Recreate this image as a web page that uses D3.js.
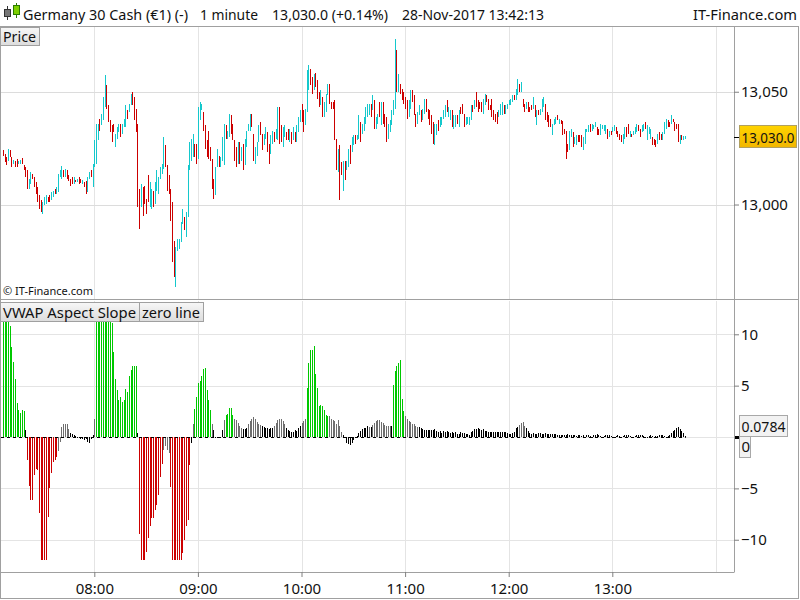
<!DOCTYPE html>
<html><head><meta charset="utf-8">
<script src="https://cdn.jsdelivr.net/npm/d3@7"></script>
<style>
body{margin:0;background:#fff}
svg{display:block}
text{font-family:"Segoe UI","Noto Sans","Open Sans",sans-serif;fill:#111}
</style></head>
<body><svg id="c" width="800" height="600"></svg>
<script>
// ---------- DATA ----------
const startTime = "07:07";           // first 1-minute bar
const hourTicks = ["08:00","09:00","10:00","11:00","12:00","13:00","14:00"];
const priceTicks = [13000, 13050];
const slopeTicks = [-10, -5, 0, 5, 10];
const lastPrice = 13030.0;
const lastSlope = 0.0784;

const high = [
13024.0,13022.5,13021.0,13024.7,13024.0,13021.0,13019.8,13019.5,13020.3,13019.5,
13019.8,13020.7,13017.3,13016.6,13015.1,13011.4,13014.3,13013.6,13012.1,13009.9,
13007.7,13004.0,13001.8,13001.0,13003.3,13004.0,13003.3,13004.0,13005.5,13006.2,
13007.0,13007.7,13013.6,13015.1,13016.9,13015.1,13015.8,13015.1,13012.9,13011.4,
13012.1,13012.1,13010.9,13011.4,13012.1,13011.4,13010.9,13009.9,13010.6,13012.1,
13014.3,13015.1,13018.0,13028.4,13035.8,13035.8,13038.0,13040.2,13047.6,13057.2,
13052.8,13043.9,13037.3,13035.1,13035.8,13031.4,13034.3,13035.8,
13035.8,13035.8,13038.0,13043.9,13041.7,13044.7,13049.1,13049.9,13047.6,13042.5,
13035.8,13007.0,13009.2,13007.7,13008.4,13002.5,13012.9,13009.9,13007.0,13006.2,
13009.9,13015.1,13012.1,13016.6,13018.0,13029.9,13026.2,13017.3,13012.9,13007.0,
13001.0,12984.0,12981.1,12984.8,12984.8,12992.2,12998.1,12994.4,12996.6,13017.3,
13027.7,13029.1,13031.4,13026.9,13026.9,13043.2,13045.4,13044.7,13041.0,13035.1,
13028.4,13032.8,13025.4,13020.3,13011.4,13016.6,13024.7,13021.7,13021.0,13029.9,
13035.8,13035.1,13032.8,13040.2,13039.5,13035.8,13028.4,13025.4,13027.7,13027.7,
13025.4,13026.9,13029.1,
13032.8,13035.8,13040.2,13040.2,13031.4,13025.4,13027.7,13035.1,13036.5,13031.4,
13031.4,13034.3,13032.1,13026.9,13030.6,13032.8,13032.1,13033.6,13043.2,13043.2,
13035.1,13034.3,13035.1,13032.1,13033.6,13033.6,13032.1,13034.3,13032.1,13035.1,
13038.8,13041.7,13044.7,13041.7,13042.5,13059.5,13061.7,13060.2,13056.5,13058.0,
13058.3,13055.0,13049.9,13050.6,13047.6,13045.4,13049.1,13053.6,13053.6,13045.4,
13045.4,13046.2,13029.1,13024.7,13026.2,13018.8,13019.5,13019.5,13019.5,13024.7,
13026.2,13029.9,13030.6,13030.6,13030.6,13039.5,13036.5,13035.8,13038.8,
13043.2,13044.7,13044.7,13044.7,13048.4,13046.2,13038.8,13040.2,13045.4,13045.4,
13045.4,13040.2,13038.8,13035.8,13037.3,13041.7,13046.2,13073.5,13068.3,13058.0,
13053.6,13051.3,13049.9,13047.6,13046.2,13046.2,13050.6,13050.6,13048.4,13040.2,
13041.0,13043.9,13041.7,13042.5,13046.9,13046.9,13042.5,13041.7,13039.5,13036.5,
13035.8,13035.8,13037.3,13038.8,13038.8,13041.7,13043.9,13046.2,13043.2,13041.7,
13041.7,13039.5,13039.5,13039.5,13041.7,13043.2,13044.7,13040.2,13038.8,13038.8,
13038.8,13043.9,13043.9,13046.2,13049.9,13046.2,13045.4,13045.4,13046.9,13049.1,
13048.4,13046.9,13043.9,13046.9,13041.7,13040.2,13041.0,13041.7,13044.7,13045.4,
13043.9,13043.9,13044.7,13046.2,13046.9,13048.4,13048.4,13051.3,13055.8,13053.6,
13054.3,13046.9,13044.7,13045.4,13045.4,13043.2,13043.9,13047.6,13043.9,13041.7,
13041.7,13042.5,13046.9,13047.6,13044.7,13041.0,13039.5,13038.0,13035.8,13038.0,
13038.8,13039.5,13038.0,13037.3,13037.0,13033.6,13032.8,13026.9,13032.8,13033.6,
13032.1,13029.9,13030.6,13030.6,13030.6,13030.6,13029.9,13033.6,13033.6,13035.1,
13035.8,13035.8,13035.1,13036.5,13034.3,13033.6,13035.8,13035.1,13035.1,
13035.1,13033.6,13032.8,13032.8,13034.3,13035.1,13034.3,13032.8,13031.4,13030.6,
13031.4,13034.3,13034.3,13035.8,13032.8,13031.4,13032.8,13034.3,13035.8,13035.1,
13033.6,13035.1,13035.8,13036.5,13035.1,13034.3,13033.6,13029.9,13029.1,13028.4,
13031.4,13032.1,13031.4,13032.1,13036.5,13038.0,13037.3,13036.5,13039.5,13038.0,
13036.5,13035.8,13035.8,13030.6,13030.6,13030.2,13030.2
];
const low = [
13021.7,13018.8,13017.3,13019.5,13021.0,13016.6,13018.0,13016.6,13016.6,13018.0,
13018.0,13018.0,13015.1,13012.1,13007.0,13007.0,13009.2,13011.4,13007.7,13004.7,
13001.0,12998.1,12996.6,12995.9,12999.6,13000.3,13001.0,13001.0,13001.8,13003.3,
13004.7,13004.7,13005.5,13012.1,13011.4,13012.1,13012.1,13011.4,13010.6,13008.4,
13009.2,13009.2,13009.9,13009.9,13008.9,13009.5,13009.2,13007.7,13004.7,13005.5,
13011.4,13012.1,13007.7,13016.6,13018.0,13028.4,13032.8,13035.1,13037.3,13043.2,
13042.4,13036.5,13032.1,13027.7,13032.1,13025.4,13029.1,13032.1,
13029.9,13031.4,13034.3,13034.3,13038.0,13041.0,13043.9,13043.9,13037.3,13032.1,
12998.8,12989.2,12998.8,12995.1,13000.3,12995.9,13001.0,12998.8,12998.1,12998.8,
13000.3,13006.2,13004.7,13011.4,13013.6,13015.8,13016.6,13006.2,13004.7,12992.9,
12974.4,12967.8,12963.6,12979.6,12980.3,12983.3,12991.4,12988.5,12985.5,12994.4,
13015.1,13019.5,13021.0,13021.0,13018.0,13020.3,13037.3,13041.7,13032.8,13024.7,
13021.0,13020.3,13019.5,13007.0,13002.5,13004.0,13016.6,13016.6,13016.6,13019.5,
13017.3,13029.1,13029.1,13029.9,13031.4,13028.4,13019.5,13016.6,13018.0,13018.0,
13019.5,13015.1,13017.3,
13025.4,13032.8,13032.8,13034.3,13019.5,13018.0,13021.7,13027.7,13030.6,13024.0,
13026.2,13029.1,13023.2,13018.0,13022.5,13026.9,13027.7,13029.1,13028.4,13026.9,
13027.7,13025.4,13029.9,13028.4,13028.4,13027.7,13026.9,13028.4,13027.7,13027.7,
13032.1,13036.5,13036.5,13032.1,13035.1,13041.0,13050.6,13052.8,13049.1,13050.6,
13052.1,13046.9,13043.2,13043.9,13038.8,13038.8,13041.0,13048.4,13044.7,13042.5,
13042.5,13028.4,13015.1,13014.3,13001.8,13012.9,13006.2,13010.7,13015.1,13016.6,
13018.0,13023.2,13026.2,13026.9,13028.4,13029.1,13027.7,13031.4,13032.8,
13035.8,13038.8,13039.5,13038.8,13041.7,13033.6,13033.6,13035.8,13038.8,13035.1,
13035.8,13034.3,13027.7,13029.1,13032.1,13035.1,13039.5,13042.5,13049.9,13049.9,
13049.1,13046.2,13044.7,13042.5,13038.0,13038.8,13042.5,13045.4,13039.5,13034.3,
13035.8,13039.5,13036.5,13037.3,13040.2,13041.0,13038.0,13035.1,13031.4,13026.9,
13026.2,13030.6,13032.8,13034.3,13035.1,13038.0,13038.8,13041.0,13038.8,13037.3,
13034.3,13033.6,13034.3,13035.8,13034.3,13040.2,13040.2,13034.3,13035.1,13035.8,
13035.1,13037.3,13041.0,13042.5,13043.2,13041.0,13042.5,13041.0,13040.2,13043.9,
13045.4,13041.7,13041.7,13038.8,13037.3,13036.5,13035.8,13038.8,13039.5,13039.5,
13040.2,13040.2,13042.5,13043.9,13043.9,13045.4,13046.2,13046.2,13048.4,13049.9,
13049.9,13043.2,13041.0,13042.5,13041.0,13041.0,13041.7,13042.5,13038.8,13035.1,
13039.5,13039.5,13041.0,13043.2,13037.3,13036.5,13034.3,13034.3,13030.6,13035.1,
13035.8,13037.3,13035.8,13035.8,13030.6,13031.4,13020.3,13023.2,13024.0,13029.9,
13025.4,13026.9,13026.2,13027.7,13027.7,13025.4,13024.0,13026.9,13032.1,13032.1,
13032.1,13032.8,13033.6,13034.3,13030.6,13030.6,13030.6,13033.6,13032.8,
13031.4,13029.1,13029.9,13030.6,13032.1,13032.8,13031.4,13029.9,13028.4,13027.7,
13026.9,13029.1,13029.9,13031.4,13029.9,13029.9,13030.6,13031.4,13032.1,13032.8,
13029.9,13032.1,13032.8,13033.6,13028.4,13031.4,13029.1,13026.2,13026.2,13025.4,
13026.9,13028.4,13028.4,13028.4,13031.4,13033.6,13034.3,13034.3,13035.8,13036.5,
13032.8,13033.6,13027.7,13026.9,13028.4,13028.4,13029.1
];
// u = rising candle (cyan), d = falling candle (red)
const candleDir =
 "dddudduddu"+"udddduuddd"+"ddduuudduu"+"duuuududdd"+"dududduddu"+"uduuuuduuu"+"ddddduuu"+
 "duuuduuddd"+"ddudddduud"+"uuuuuudddd"+"dduuuuuduu"+"uuudduuudd"+"ddddduuduu"+"uduuddddud"+"udu"+
 "uuudduuudd"+"uudduuduud"+"duuddududu"+"uudduuuddu"+"ddduduuudd"+"dddudduduu"+"duuduuduu"+
 "uuududuudu"+"ddduuuuudu"+"ddddduuddd"+"uuduuddddd"+"uuduuuuduu"+"duududdduu"+"uududdddu"+"u"+
 "ddddddduuu"+"duuuuuduud"+"uddudddudu"+"duuudddduu"+"ududdddduu"+"duuddduuuu"+"duuudduuu"+
 "ududuudddd"+"uudduduuud"+"duuduuuddd"+"udduuuddud"+"ddduduu";

const slope = [
12,12,12,12,10.8,8.8,7.3,5.6,3.3,2.6,
2.3,2.6,2.5,0.7,-2.2,-4.8,-6.1,-6.1,-3.7,-3.1,
-3.2,-7.4,-12,-12,-12,-12,-7.8,-5.0,-3.5,-2.4,
-2.2,-1.9,-1.4,-0.5,1.0,1.3,1.3,1.3,0.8,0.4,
0.25,0.2,0.1,0.05,-0.1,-0.2,-0.2,-0.3,-0.2,-0.45,
-0.55,-0.2,0.2,1.8,12,12,12,12,12,12,
12,12,12,11.1,8.3,5.6,4.6,3.6,3.9,3.4,
3.6,4.7,4.4,5.9,6.5,6.9,6.9,6.9,0.4,-9.4,
-12,-12,-12,-11.2,-9.8,-8.7,-7.9,-7.9,-7.1,-6.6,
-5.6,-3.9,-2.6,-1.3,-0.9,-1.3,-1.6,-4.9,-12,-12,
-12,-12,-12,-12,-11.3,-10.0,-8.7,-8.1,-2.7,-0.6,
1.3,2.7,3.9,5.3,5.5,5.9,6.6,6.7,4.6,3.6,
2.6,1.3,0.7,0.05,-0.05,-0.1,0.05,0.7,1.7,2.1,
2.2,2.8,2.8,2.1,1.8,1.7,1.4,1.1,0.9,0.8,
0.75,0.9,1.3,1.6,1.8,1.9,1.8,1.5,1.3,1.2,
1.1,1.0,0.9,0.85,0.8,0.85,0.85,1.1,1.4,1.7,
1.8,1.8,1.6,1.3,0.85,0.7,0.6,0.5,0.5,0.7,
0.6,0.85,1.1,1.4,1.6,1.8,4.8,7.2,8.5,8.5,
8.9,6.1,4.8,3.0,3.1,3.0,2.6,2.1,2.0,2.0,
1.8,1.7,1.6,1.3,1.7,1.1,0.5,0.2,0.05,-0.6,
-0.7,-0.8,-0.6,-0.3,0.05,0.1,0.4,0.6,0.8,0.85,
0.85,1.1,1.0,0.95,1.2,1.4,1.6,1.7,1.7,1.5,
1.4,1.2,1.1,1.1,1.1,1.1,5.1,6.4,6.9,7.2,
7.5,3.7,2.5,2.0,1.8,1.6,1.5,1.3,1.25,1.1,
1.0,0.95,0.85,0.75,0.7,0.7,0.7,0.7,0.65,0.7,
0.75,0.6,0.5,0.55,0.4,0.55,0.5,0.6,0.45,0.4,
0.5,0.35,0.45,0.3,0.3,0.45,0.4,0.4,0.3,0.3,
0.2,0.45,0.55,0.75,0.8,0.85,0.75,0.7,0.75,0.6,
0.55,0.5,0.5,0.45,0.5,0.5,0.45,0.5,0.5,0.45,
0.5,0.45,0.4,0.3,0.25,0.35,0.5,0.9,1.0,1.2,
1.4,1.5,1.1,0.9,0.6,0.4,0.3,0.35,0.3,0.3,
0.35,0.35,0.3,0.3,0.35,0.3,0.3,0.25,0.3,0.3,
0.25,0.15,0.2,0.2,0.15,0.2,0.2,0.25,0.2,0.15,
0.2,0.15,0.1,0.15,0.2,0.1,0.15,0.05,0.15,0.2,
0.1,0.05,0.15,0.2,0.25,0.15,0.1,0.05,0.1,0.15,
0.2,0.15,0.1,0.05,0.05,0.1,0.15,0.1,0.05,0.1,
0.15,0.2,0.15,0.1,0.05,0.05,0.1,0.15,0.2,0.2,
0.15,0.1,0.05,0.05,0.1,0.15,0.1,0.05,0.1,0.1,
0.15,0.2,0.15,0.1,0.05,0.1,0.2,0.4,0.55,0.7,
0.85,0.95,0.75,0.6,0.35,0.0784
];
// g = strong rise (green), r = strong fall (red), s = grey, k = black
const slopeColor =
 "ggggggggggggg"+"k"+"rrrrrrrrrrrrrrrrrr"+"sssssss"+"kkkkkkkkkkkkkk"+"s"+
 "gggggggggggggggggggggggg"+"k"+"rrrrrrrrrrrrrr"+"ssss"+"rrrrrrrrrrrr"+"k"+"s"+
 "gggggggggg"+"s"+"kkkkkk"+"s"+"ggggg"+"sssss"+"kkk"+"ssssssss"+"kkkkkkk"+"sssssss"+
 "kkkkkkkkk"+"sss"+"ggggggggggggg"+"ssssssss"+"kkkkkkkkkkkkkkk"+"s"+"k"+"sssssssssss"+"k"+
 "ggggggg"+"ssssssss"+
 "kkkkkkkkkkkkkkkkkkkkkkkkkkkkkkkkkkkkkkkkkkkkkkkkkkkkkkkkkk"+"ssss"+
 "kkkkkkkkkkkkkkkkkkkkkkkkkkkkkkkkkkkkkkkkkkkkkkkkkkkkkkkkkkkkkkkkkkkkkkkkkkkkkkkkkkkkkkkkkkkkk";

// ---------- CHART ----------
const svg = d3.select("#c");
const plotL = 1, plotR = 734;
const pTop = 27, pBot = 297, iTop = 301, iBot = 572;
const parse = d3.timeParse("%H:%M");
const t0 = parse(startTime);
const bars = high.map((h, i) => ({
  t: d3.timeMinute.offset(t0, i), h, l: low[i], up: candleDir[i] === "u",
  s: slope[i], c: slopeColor[i]
}));
const hours = hourTicks.map(parse);
const x = d3.scaleTime().domain([parse("07:00"), parse("14:00")]).range([-9.3, 715.9]);
const yP = d3.scaleLinear().domain([12959, 13078.7]).range([pBot, pTop]);
const yI = d3.scaleLinear().domain([-13.14, 13.24]).range([iBot, iTop]);

const defs = svg.append("defs");
defs.append("clipPath").attr("id","cp").append("rect").attr("x",plotL).attr("y",pTop).attr("width",plotR-plotL).attr("height",pBot-pTop);
defs.append("clipPath").attr("id","ci").append("rect").attr("x",plotL).attr("y",iTop).attr("width",plotR-plotL).attr("height",iBot-iTop);
const gBtn = defs.append("linearGradient").attr("id","btn").attr("x1",0).attr("y1",0).attr("x2",0).attr("y2",1);
gBtn.append("stop").attr("offset","0").attr("stop-color","#f7f7f7");
gBtn.append("stop").attr("offset","1").attr("stop-color","#dcdcdc");
const gGold = defs.append("linearGradient").attr("id","gold").attr("x1",0).attr("y1",0).attr("x2",0).attr("y2",1);
gGold.append("stop").attr("offset","0").attr("stop-color","#ffd400");
gGold.append("stop").attr("offset","1").attr("stop-color","#f2b600");

svg.append("rect").attr("width",800).attr("height",600).attr("fill","#fff");

// Header
const hdr = svg.append("g");
hdr.append("line").attr("x1",7.5).attr("x2",7.5).attr("y1",6).attr("y2",20).attr("stroke","#333");
hdr.append("rect").attr("x",4.5).attr("y",9.5).attr("width",6).attr("height",7).attr("fill","#777").attr("stroke","#333");
hdr.append("line").attr("x1",16.5).attr("x2",16.5).attr("y1",3).attr("y2",18).attr("stroke","#2a7a00");
hdr.append("rect").attr("x",13.5).attr("y",5.5).attr("width",6).attr("height",9).attr("fill","#7ed000").attr("stroke","#2a7a00");
const hTexts = [
  {t:"Germany 30 Cash (€1) (-)", x:23, w:165},
  {t:"1 minute", x:200, w:58},
  {t:"13,030.0 (+0.14%)", x:272, w:116},
  {t:"28-Nov-2017 13:42:13", x:402, w:142}
];
hTexts.forEach(d => hdr.append("text").attr("x",d.x).attr("y",19.5).attr("font-size",15)
  .attr("textLength",d.w).attr("lengthAdjust","spacingAndGlyphs").text(d.t));
hdr.append("text").attr("x",797).attr("y",19.5).attr("font-size",15).attr("text-anchor","end")
  .attr("textLength",104).attr("lengthAdjust","spacingAndGlyphs").text("IT-Finance.com");

// Frame
svg.append("rect").attr("x",0.5).attr("y",26.5).attr("width",798).attr("height",572).attr("fill","none").attr("stroke","#a0a0a0");
svg.append("line").attr("x1",0).attr("x2",799).attr("y1",299.5).attr("y2",299.5).attr("stroke","#a0a0a0");
svg.append("line").attr("x1",734.5).attr("x2",734.5).attr("y1",27).attr("y2",572).attr("stroke","#a0a0a0");
svg.append("line").attr("x1",0).attr("x2",734.5).attr("y1",572.5).attr("y2",572.5).attr("stroke","#a0a0a0");

// Grid
const grid = svg.append("g").attr("stroke","#e4e4e4").attr("shape-rendering","crispEdges");
hours.forEach(h => {
  const xx = Math.round(x(h)) + 0.5;
  grid.append("line").attr("x1",xx).attr("x2",xx).attr("y1",pTop).attr("y2",pBot+2);
  grid.append("line").attr("x1",xx).attr("x2",xx).attr("y1",iTop).attr("y2",iBot);
});
priceTicks.forEach(p => { const yy = Math.round(yP(p)) + 0.5;
  grid.append("line").attr("x1",plotL).attr("x2",plotR).attr("y1",yy).attr("y2",yy).attr("stroke","#dcdcdc"); });
slopeTicks.forEach(v => { const yy = Math.round(yI(v)) + 0.5;
  grid.append("line").attr("x1",plotL).attr("x2",plotR).attr("y1",yy).attr("y2",yy); });

// Candles
const cCol = {true:"#14c8cc", false:"#cc0000"};
svg.append("g").attr("clip-path","url(#cp)").attr("shape-rendering","crispEdges")
  .selectAll("rect").data(bars).join("rect")
  .attr("x", d => Math.round(x(d.t)))
  .attr("y", d => Math.round(yP(d.h)))
  .attr("width", 1)
  .attr("height", d => Math.max(1, Math.round(yP(d.l)) - Math.round(yP(d.h))))
  .attr("fill", d => cCol[d.up]);

// Slope histogram
const sCol = {g:"#00c800", r:"#cc0000", s:"#6e6e6e", k:"#000"};
svg.append("g").attr("clip-path","url(#ci)").attr("shape-rendering","crispEdges")
  .selectAll("rect").data(bars).join("rect")
  .attr("x", d => Math.round(x(d.t)))
  .attr("y", d => d.s >= 0 ? Math.round(yI(d.s)) : Math.round(yI(0)))
  .attr("width", 1)
  .attr("height", d => Math.max(1, Math.abs(Math.round(yI(d.s)) - Math.round(yI(0)))))
  .attr("fill", d => sCol[d.c]);
// zero line
svg.append("line").attr("x1",plotL).attr("x2",x(bars[bars.length-1].t)+1)
  .attr("y1",Math.round(yI(0))+0.5).attr("y2",Math.round(yI(0))+0.5)
  .attr("stroke","#000").attr("stroke-dasharray","3,3");

// Axes
const axStyle = g => { g.select(".domain").remove();
  g.selectAll(".tick line").attr("stroke","#808080");
  g.selectAll(".tick text").attr("font-size",15).attr("fill","#111")
   .style("font-family",'"Segoe UI","Noto Sans",sans-serif'); };
svg.append("g").attr("transform","translate(734,0)")
  .call(d3.axisRight(yP).tickValues(priceTicks).tickFormat(d3.format(",")).tickSize(5).tickPadding(2))
  .call(axStyle);
svg.append("g").attr("transform","translate(734,0)")
  .call(d3.axisRight(yI).tickValues(slopeTicks.filter(v => v !== 0)).tickFormat(d3.format("d")).tickSize(5).tickPadding(2))
  .call(axStyle);
svg.append("g").attr("transform",`translate(0,${iBot})`)
  .call(d3.axisBottom(x).tickValues(hours.slice(0,6)).tickFormat(d3.timeFormat("%H:%M")).tickSize(5).tickPadding(6))
  .call(axStyle);

// Last-value boxes
const yl = Math.round(yP(lastPrice));
svg.append("line").attr("x1",734).attr("x2",739).attr("y1",yl+0.5).attr("y2",yl+0.5).attr("stroke","#000");
svg.append("rect").attr("x",739.5).attr("y",yl-11.5).attr("width",57).attr("height",22).attr("fill","url(#gold)").attr("stroke","#b0a060");
svg.append("text").attr("x",741.5).attr("y",yl+5.5).attr("font-size",15)
  .attr("textLength",53).attr("lengthAdjust","spacingAndGlyphs").text(d3.format(",.1f")(lastPrice));
const y0 = Math.round(yI(0));
svg.append("rect").attr("x",735).attr("y",y0-1).attr("width",4).attr("height",3).attr("fill","#000");
svg.append("rect").attr("x",739.5).attr("y",y0-21.5).attr("width",48).attr("height",21).attr("fill","#f2f2f2").attr("stroke","#a8a8a8");
svg.append("text").attr("x",741.5).attr("y",y0-5).attr("font-size",15)
  .attr("textLength",44).attr("lengthAdjust","spacingAndGlyphs").text(String(lastSlope));
svg.append("rect").attr("x",739.5).attr("y",y0-0.5).attr("width",11).attr("height",21).attr("fill","#f2f2f2").attr("stroke","#a8a8a8");
svg.append("text").attr("x",741.5).attr("y",y0+15).attr("font-size",15).text("0");

// Panel labels
function btn(xx, yy, w, h, label) {
  svg.append("rect").attr("x",xx+0.5).attr("y",yy+0.5).attr("width",w).attr("height",h).attr("fill","url(#btn)").attr("stroke","#a0a0a0");
  svg.append("text").attr("x",xx+3).attr("y",yy+h-3.5).attr("font-size",15)
    .attr("textLength",w-6).attr("lengthAdjust","spacingAndGlyphs").text(label);
}
btn(0, 27, 39, 18, "Price");
btn(0, 302, 139, 19, "VWAP Aspect Slope");
btn(139, 302, 64, 19, "zero line");
svg.append("text").attr("x",3).attr("y",295).attr("font-size",11).text("© IT-Finance.com");
</script></body></html>
